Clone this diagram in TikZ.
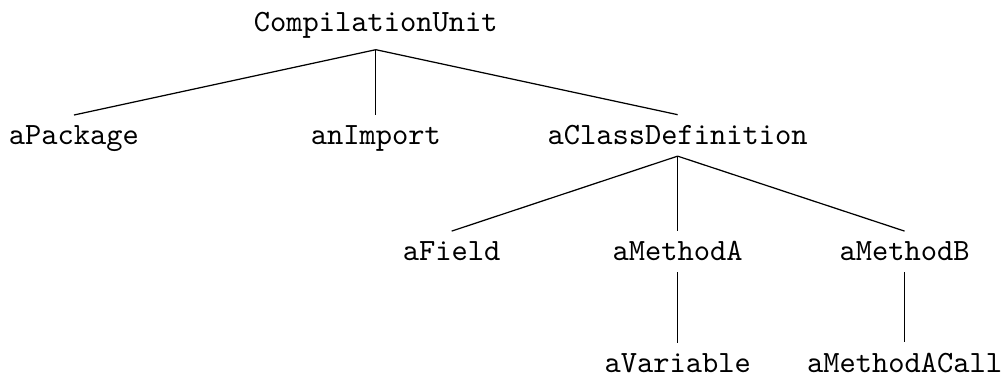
\documentclass[tikz,border=0pt]{standalone}
\usetikzlibrary{positioning}

\begin{document}
\begin{tikzpicture}[
    ast/.style={
        font=\ttfamily,
        anchor=base
    },
    link/.style={
        -,
        thin
    }
]

    % the root sits with its baseline at the origin
    \useasboundingbox (-121.4pt,10.3pt) rectangle ++(324pt,-122.1pt);

    % Root
    \node[ast] (unit) at (0,0) {CompilationUnit};

    % --- First level ---
    \node[ast, below left=36.5pt and 97.5pt of unit.base, anchor=base] (pkg) {aPackage};
    \node[ast, below=36.5pt of unit.base, anchor=base] (imp) {anImport};
    \node[ast, below right=36.5pt and 97.5pt of unit.base, anchor=base] (cls) {aClassDefinition};

    % --- Class members ---
    \node[ast, below left=37.5pt and 73pt of cls.base, anchor=base] (field) {aField};
    \node[ast, below=37.5pt of cls.base, anchor=base] (methA) {aMethodA};
    \node[ast, below right=37.5pt and 73.3pt of cls.base, anchor=base] (methB) {aMethodB};

    % --- Method bodies ---
    \node[ast, below=36pt of methA.base, anchor=base] (var) {aVariable};
    \node[ast, below=36pt of methB.base, anchor=base] (call) {aMethodACall};

    % Edges
    \draw[link] (unit.south) -- (pkg.north);
    \draw[link] (unit.south) -- (imp.north);
    \draw[link] (unit.south) -- (cls.north);
    \draw[link] (cls.south) -- (field.north);
    \draw[link] (cls.south) -- (methA.north);
    \draw[link] (cls.south) -- (methB.north);
    \draw[link] (methA.south) -- (var.north);
    \draw[link] (methB.south) -- (call.north);

\end{tikzpicture}
\end{document}
